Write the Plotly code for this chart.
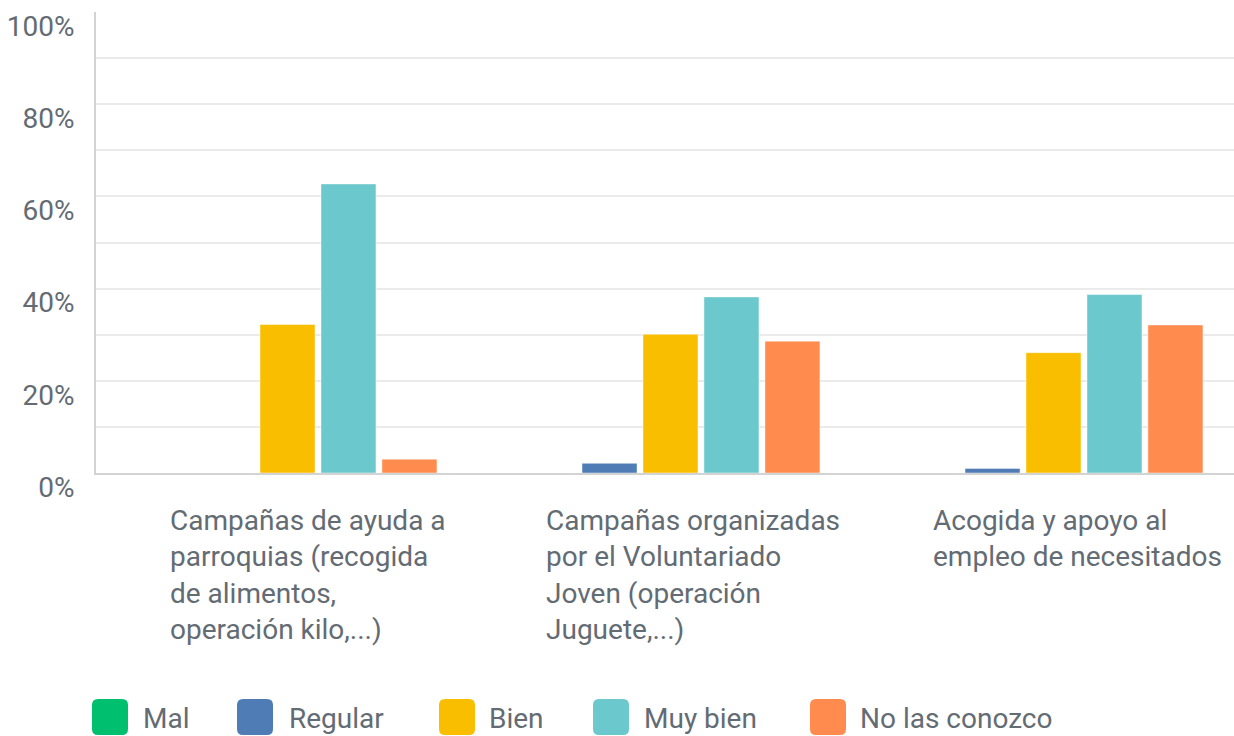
import plotly.graph_objects as go

# ---------------- data ----------------
categories = [
    "Campañas de ayuda a<br>parroquias (recogida<br>de alimentos,<br>operación kilo,...)",
    "Campañas organizadas<br>por el Voluntariado<br>Joven (operación<br>Juguete,...)",
    "Acogida y apoyo al<br>empleo de necesitados",
]
cat_keys = ["c1", "c2", "c3"]
series_names = ["Mal", "Regular", "Bien", "Muy bien", "No las conozco"]
mal = [0.0, 0.0, 0.0]
regular = [0.0, 2.1, 1.0]
bien = [32.2, 30.1, 26.1]
muy_bien = [62.7, 38.2, 38.7]
no_conozco = [3.0, 28.6, 32.1]
series_values = [mal, regular, bien, muy_bien, no_conozco]
colors = ["#00bf6f", "#507cb6", "#f9be00", "#6bc8cd", "#ff8b4f"]
ytick_vals = [0, 20, 40, 60, 80, 100]
ytick_text = ["0%", "20%", "40%", "60%", "80%", "100%"]

# ---------------- layout geometry ----------------
W, H = 1234, 736
L, R, T, B = 96, 0, 12, 263
PW, PH = W - L - R, H - T - B
CAT_W = 383.0
FONT = "Roboto"
TXT = "#636b73"
FS = 28


def px(xp):
    return (xp - L) / PW


def py(yp):
    return (H - B - yp) / PH


fig = go.Figure()
for name, vals, col in zip(series_names, series_values, colors):
    fig.add_trace(go.Bar(
        name=name, x=cat_keys, y=vals,
        marker=dict(color=col, line=dict(width=1, color="rgba(255,255,255,0.45)")),
        showlegend=False,
    ))

annotations = []
label_offsets = [72, 65, 69]
for i, (lab, off) in enumerate(zip(categories, label_offsets)):
    annotations.append(dict(
        x=i - 0.5, xref="x", xshift=off, xanchor="left",
        y=py(502), yref="paper", yanchor="top",
        text=lab, align="left", showarrow=False,
        font=dict(family=FONT, size=FS, color=TXT),
    ))

shapes = []
sw_left = [92, 237, 439, 593, 810]
txt_left = [141, 287, 487, 642, 858]
for name, col, sx, tx in zip(series_names, colors, sw_left, txt_left):
    x0, x1, y0, y1, r = sx, sx + 36, 699, 735, 6
    path = (
        f"M {px(x0 + r)} {py(y0)} L {px(x1 - r)} {py(y0)} "
        f"Q {px(x1)} {py(y0)} {px(x1)} {py(y0 + r)} L {px(x1)} {py(y1 - r)} "
        f"Q {px(x1)} {py(y1)} {px(x1 - r)} {py(y1)} L {px(x0 + r)} {py(y1)} "
        f"Q {px(x0)} {py(y1)} {px(x0)} {py(y1 - r)} L {px(x0)} {py(y0 + r)} "
        f"Q {px(x0)} {py(y0)} {px(x0 + r)} {py(y0)} Z"
    )
    shapes.append(dict(type="path", path=path, xref="paper", yref="paper",
                       fillcolor=col, line=dict(width=0)))
    annotations.append(dict(
        x=px(tx), xref="paper", xanchor="left",
        y=py(718), yref="paper", yanchor="middle",
        text=name, showarrow=False,
        font=dict(family=FONT, size=FS, color=TXT),
    ))

fig.update_layout(
    width=W, height=H,
    margin=dict(l=L, r=R, t=T, b=B, pad=0),
    paper_bgcolor="white", plot_bgcolor="white",
    barmode="group", bargap=0.204, bargroupgap=0.098,
    font=dict(family=FONT, size=FS, color=TXT),
    annotations=annotations, shapes=shapes,
    showlegend=False,
)
fig.update_xaxes(
    type="category", categoryorder="array", categoryarray=cat_keys,
    range=[-0.5, -0.5 + PW / CAT_W],
    showticklabels=False, ticks="",
    showline=True, linecolor="#d3d3d3", linewidth=2,
    showgrid=False, zeroline=False, fixedrange=True,
)
fig.update_yaxes(
    range=[0, 100], tickvals=ytick_vals, ticktext=ytick_text,
    ticks="", showgrid=False, zeroline=False,
    minor=dict(tickvals=[10, 20, 30, 40, 50, 60, 70, 80, 90], showgrid=True,
               gridcolor="#ebebeb", gridwidth=2, ticks=""),
    showline=True, linecolor="#d3d3d3", linewidth=2,
    ticklabelshift=14, ticklabelstandoff=14,
    tickfont=dict(family=FONT, size=FS, color=TXT),
    fixedrange=True,
)

fig.write_html("out.html", config={"displayModeBar": False})

# remove the browser's default page margin so the figure sits at (0, 0)
with open("out.html", "r", encoding="utf-8") as f:
    html = f.read()
html = html.replace("<body>", '<body style="margin:0;overflow:hidden">', 1)
with open("out.html", "w", encoding="utf-8") as f:
    f.write(html)
